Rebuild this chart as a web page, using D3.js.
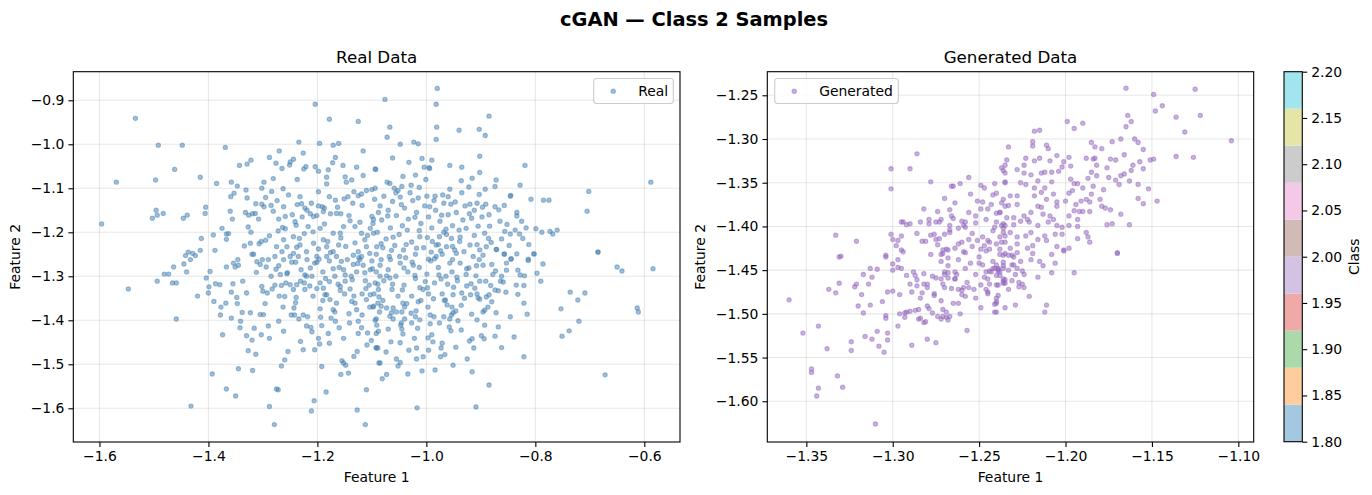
<html>
<head>
<meta charset="utf-8">
<style>
  body { margin: 0; background: #fff; }
  text { font-family: "DejaVu Sans", sans-serif; fill: #000; }
</style>
<script src="https://d3js.org/d3.v7.min.js"></script>
</head>
<body>
<script>
// real samples [feature 1, feature 2]
const realPoints = [
[-1.534,-0.941],[-1.204,-0.909],[-1.178,-0.943],[-1.125,-0.948],[-1.492,-1.002],[-1.448,-1.002],[-1.369,-1.007],[-1.234,-0.995],[-1.196,-0.998],[-1.171,-1.002],[-1.161,-0.998],[-1.116,-1.015],[-1.462,-1.057],[-1.569,-1.086],[-1.497,-1.081],[-1.415,-1.075],[-1.385,-1.089],[-1.596,-1.181],[-1.503,-1.168],[-1.494,-1.161],[-1.496,-1.150],[-1.483,-1.157],[-1.446,-1.168],[-1.439,-1.161],[-1.406,-1.157],[-1.405,-1.143],[-1.413,-1.214],[-1.391,-1.206],[-1.388,-1.241],[-1.375,-1.191],[-1.367,-1.204],[-1.363,-1.203],[-1.367,-1.216],[-1.360,-1.152],[-1.356,-1.170],[-1.359,-1.119],[-1.353,-1.111],[-1.358,-1.086],[-1.347,-1.095],[-1.343,-1.048],[-1.329,-1.045],[-1.322,-1.036],[-1.331,-1.104],[-1.329,-1.122],[-1.332,-1.155],[-1.326,-1.161],[-1.319,-1.158],[-1.314,-1.157],[-1.327,-1.188],[-1.322,-1.200],[-1.323,-1.225],[-1.307,-1.226],[-1.303,-1.221],[-1.295,-1.218],[-1.320,-1.250],[-1.317,-1.250],[-1.308,-1.170],[-1.302,-1.100],[-1.298,-1.086],[-1.302,-1.136],[-1.298,-1.142],[-1.295,-1.121],[-1.288,-1.030],[-1.285,-1.139],[-1.284,-1.107],[-1.281,-1.078],[-1.281,-1.152],[-1.276,-1.043],[-1.270,-1.015],[-1.265,-1.055],[-1.271,-1.170],[-1.264,-1.189],[-1.272,-1.197],[-1.259,-1.164],[-1.253,-1.115],[-1.251,-1.047],[-1.250,-1.040],[-1.244,-1.034],[-1.246,-1.160],[-1.239,-1.184],[-1.237,-1.080],[-1.232,-1.119],[-1.237,-1.137],[-1.229,-1.135],[-1.226,-1.020],[-1.221,-1.051],[-1.225,-1.056],[-1.223,-1.145],[-1.219,-1.150],[-1.228,-1.165],[-1.224,-1.203],[-1.211,-1.134],[-1.204,-1.051],[-1.198,-1.061],[-1.198,-1.108],[-1.198,-1.140],[-1.191,-1.142],[-1.187,-1.145],[-1.178,-1.119],[-1.183,-1.090],[-1.180,-1.058],[-1.172,-1.042],[-1.167,-1.030],[-1.167,-1.127],[-1.153,-1.048],[-1.149,-1.074],[-1.147,-1.086],[-1.137,-1.081],[-1.128,-1.052],[-1.093,-1.057],[-1.151,-1.124],[-1.144,-1.119],[-1.135,-1.134],[-1.133,-1.108],[-1.125,-1.117],[-1.119,-1.113],[-1.110,-1.105],[-1.100,-1.103],[-1.094,-1.100],[-1.201,-1.162],[-1.189,-1.153],[-1.176,-1.158],[-1.165,-1.157],[-1.157,-1.158],
[-1.140,-1.174],[-1.131,-1.187],[-1.122,-1.177],[-1.119,-1.202],[-1.113,-1.217],[-1.103,-1.191],[-1.097,-1.202],[-1.091,-1.233],[-1.110,-1.233],[-1.125,-1.244],[-1.134,-1.252],[-1.119,-1.255],[-1.100,-1.164],[-1.088,-1.155],
[-1.275,-1.233],[-1.265,-1.244],[-1.256,-1.233],[-1.244,-1.248],[-1.232,-1.229],[-1.220,-1.244],[-1.207,-1.225],[-1.201,-1.255],[-1.250,-1.255],[-1.278,-1.255],[-1.235,-1.255],[-1.189,-1.217],[-1.183,-1.233],[-1.171,-1.244],[-1.161,-1.229],[-1.158,-1.202],[-1.171,-1.202],[-1.152,-1.187],[-1.195,-1.191],[-1.207,-1.164],[-1.217,-1.187],[-1.244,-1.210],[-1.262,-1.217],[-1.183,-1.255],[-1.165,-1.255],
[-0.980,-0.873],[-1.076,-0.898],[-0.982,-0.909],[-0.885,-0.936],[-1.067,-0.961],[-1.072,-0.984],[-0.981,-0.961],[-0.982,-0.989],[-0.940,-0.968],[-0.903,-0.966],[-0.892,-0.980],[-1.048,-1.000],[-1.023,-0.995],[-1.015,-0.999],[-1.008,-1.032],[-0.990,-1.036],[-1.004,-1.052],[-0.995,-1.053],[-0.994,-1.055],[-0.957,-1.048],[-0.902,-1.027],[-0.902,-1.064],[-0.916,-1.077],[-0.936,-1.083],[-0.819,-1.048],[-1.094,-1.056],[-1.043,-1.073],[-1.020,-1.070],[-1.001,-1.080],[-1.072,-1.086],[-1.067,-1.089],[-0.588,-1.086],[-0.702,-1.107],[-0.705,-1.152],[-0.685,-1.245],[-1.045,-1.096],[-1.028,-1.093],[-1.013,-1.098],[-1.059,-1.100],[-1.052,-1.105],
[-0.957,-1.102],[-0.960,-1.119],[-0.984,-1.118],[-0.968,-1.134],[-0.955,-1.136],[-0.922,-1.097],[-0.903,-1.114],[-0.892,-1.102],[-0.874,-1.096],[-0.845,-1.116],[-0.828,-1.093],[-0.808,-1.125],[-0.785,-1.127],[-0.775,-1.127],
[-0.929,-1.140],[-0.920,-1.136],[-0.907,-1.134],[-0.891,-1.136],[-0.874,-1.142],[-0.867,-1.149],[-0.857,-1.139],[-0.834,-1.155],[-0.834,-1.163],[-0.825,-1.175],[-0.817,-1.190],[-0.799,-1.192],[-0.788,-1.200],[-0.773,-1.198],[-0.768,-1.204],[-0.760,-1.195],[-0.856,-1.198],[-0.846,-1.204],[-0.837,-1.195],[-0.829,-1.204],[-0.823,-1.214],[-0.803,-1.249],[-0.857,-1.250],[-0.844,-1.260],[-0.813,-1.261],
[-0.933,-1.172],[-0.927,-1.191],[-0.917,-1.168],[-0.905,-1.186],[-0.893,-1.202],[-0.884,-1.186],[-0.872,-1.239],[-0.890,-1.233],[-0.902,-1.240],[-0.920,-1.229],[-0.939,-1.221],[-0.954,-1.214],[-0.976,-1.210],[-0.982,-1.229],[-0.963,-1.233],[-0.945,-1.248],[-0.914,-1.255],[-0.896,-1.252],[-0.881,-1.223],
[-1.095,-1.125],[-1.085,-1.140],[-1.078,-1.118],[-1.070,-1.150],[-1.062,-1.130],[-1.055,-1.162],[-1.048,-1.120],[-1.040,-1.145],[-1.033,-1.170],[-1.025,-1.128],[-1.018,-1.155],[-1.010,-1.180],[-1.003,-1.140],[-0.996,-1.165],[-0.990,-1.190],[-0.983,-1.150],[-0.975,-1.175],[-0.968,-1.200],[-0.960,-1.160],[-0.952,-1.185],
[-1.098,-1.180],[-1.090,-1.200],[-1.082,-1.172],[-1.074,-1.215],[-1.066,-1.190],[-1.058,-1.230],[-1.050,-1.205],[-1.042,-1.240],[-1.035,-1.195],[-1.027,-1.222],[-1.020,-1.250],[-1.012,-1.210],[-1.005,-1.235],[-0.998,-1.212],[-0.991,-1.245],[-0.985,-1.260],[-0.978,-1.228],[-0.971,-1.250],[-0.963,-1.205],[-0.948,-1.240],
[-1.092,-1.250],[-1.080,-1.235],[-1.068,-1.255],[-1.056,-1.110],[-1.044,-1.185],[-1.030,-1.110],[-1.015,-1.122],[-0.999,-1.118],[-0.986,-1.128],[-0.970,-1.115],[-0.945,-1.155],[-0.940,-1.195],[-0.935,-1.110],[-0.912,-1.150],[-0.898,-1.165],[-0.885,-1.160],[-0.865,-1.175],[-0.852,-1.182],[-0.862,-1.215],[-0.848,-1.230],
[-1.547,-1.329],[-1.494,-1.311],[-1.481,-1.295],[-1.473,-1.295],[-1.464,-1.279],[-1.466,-1.315],[-1.459,-1.315],[-1.459,-1.397],[-1.440,-1.290],[-1.445,-1.272],[-1.442,-1.253],[-1.437,-1.245],[-1.429,-1.248],[-1.424,-1.253],[-1.433,-1.262],[-1.415,-1.241],
[-1.420,-1.345],[-1.432,-1.595],[-1.404,-1.304],[-1.399,-1.324],[-1.400,-1.338],[-1.397,-1.289],[-1.390,-1.357],[-1.387,-1.317],[-1.379,-1.319],[-1.377,-1.370],[-1.378,-1.388],[-1.374,-1.433],[-1.368,-1.361],[-1.358,-1.395],[-1.358,-1.336],[-1.367,-1.279],[-1.354,-1.270],[-1.351,-1.279],[-1.345,-1.275],[-1.355,-1.317],[-1.348,-1.348],[-1.347,-1.362],[-1.341,-1.402],[-1.342,-1.417],[-1.337,-1.311],[-1.330,-1.338],[-1.330,-1.435],[-1.327,-1.469],[-1.323,-1.383],[-1.320,-1.445],[-1.313,-1.477],[-1.345,-1.510],[-1.393,-1.522],[-1.367,-1.556],[-1.350,-1.572],[-1.319,-1.514],[-1.305,-1.387],[-1.299,-1.387],[-1.303,-1.433],[-1.290,-1.413],[-1.288,-1.596],[-1.279,-1.637],[-1.272,-1.558],[-1.275,-1.556],[-1.266,-1.504],[-1.260,-1.490],[-1.262,-1.425],[-1.263,-1.370],[-1.260,-1.346],[-1.258,-1.315],[-1.256,-1.294],[-1.248,-1.388],[-1.242,-1.388],[-1.234,-1.397],[-1.226,-1.388],[-1.220,-1.413],[-1.212,-1.416],[-1.210,-1.426],[-1.226,-1.467],[-1.206,-1.583],[-1.211,-1.606],[-1.184,-1.563],[-1.198,-1.441],[-1.196,-1.454],[-1.195,-1.374],[-1.194,-1.393],[-1.167,-1.402],[-1.160,-1.417],[-1.155,-1.492],[-1.152,-1.497],[-1.148,-1.502],[-1.157,-1.523],[-1.143,-1.520],[-1.127,-1.604],[-1.112,-1.637],[-1.110,-1.558],[-1.109,-1.456],[-1.108,-1.429],[-1.092,-1.462],[-1.092,-1.430],[-1.088,-1.425],[-1.094,-1.400],[-1.085,-1.497],
[-1.311,-1.267],[-1.305,-1.273],[-1.294,-1.279],[-1.302,-1.323],[-1.300,-1.334],[-1.283,-1.329],[-1.271,-1.276],[-1.268,-1.296],[-1.255,-1.292],[-1.250,-1.319],[-1.244,-1.330],[-1.238,-1.319],[-1.231,-1.311],[-1.223,-1.330],[-1.220,-1.300],[-1.213,-1.281],[-1.201,-1.268],[-1.195,-1.315],[-1.189,-1.327],[-1.183,-1.342],[-1.177,-1.353],[-1.171,-1.376],[-1.165,-1.361],[-1.158,-1.323],[-1.149,-1.311],[-1.140,-1.329],[-1.131,-1.361],[-1.128,-1.376],[-1.125,-1.402],[-1.119,-1.417],[-1.110,-1.353],[-1.103,-1.342],[-1.097,-1.368],[-1.094,-1.315],[-1.088,-1.330],[-1.152,-1.285],[-1.134,-1.273],[-1.122,-1.262],[-1.103,-1.285],[-1.085,-1.300],
[-0.685,-1.245],[-0.650,-1.279],[-0.641,-1.288],[-0.584,-1.283],[-0.736,-1.336],[-0.709,-1.338],[-0.722,-1.354],[-0.753,-1.374],[-0.720,-1.402],[-0.738,-1.424],[-0.751,-1.436],[-0.613,-1.372],[-0.611,-1.381],[-0.672,-1.524],[-0.821,-1.483],[-0.815,-1.386],[-0.821,-1.361],[-0.839,-1.438],[-0.868,-1.415],[-0.874,-1.436],[-0.885,-1.547],[-0.909,-1.597],[-1.017,-1.599],[-1.008,-1.515],[-0.984,-1.513],[-1.034,-1.522],[-1.081,-1.533],[-1.087,-1.497],[-1.055,-1.488],[-1.052,-1.504],[-1.048,-1.496],[-1.018,-1.488],[-1.006,-1.483],[-0.974,-1.483],[-0.966,-1.478],[-0.925,-1.488],[-0.916,-1.517],[-0.913,-1.463],[-0.916,-1.442],[-0.899,-1.435],[-0.894,-1.442],[-0.907,-1.399],[-0.936,-1.422],[-0.955,-1.424],[-0.958,-1.415],[-0.976,-1.406],[-0.990,-1.433],[-0.988,-1.449],[-0.997,-1.440],[-0.973,-1.463],[-1.018,-1.463],[-1.065,-1.449],[-1.070,-1.420],[-1.045,-1.420],[-1.046,-1.406],[-1.047,-1.411],[-1.089,-1.463],[-1.092,-1.463],[-1.027,-1.406],[-1.020,-1.392],[-1.012,-1.399],[-1.040,-1.397],[-1.061,-1.397],[-1.092,-1.397],
[-0.957,-1.397],[-0.954,-1.388],[-0.951,-1.383],[-0.946,-1.379],[-0.962,-1.365],[-0.953,-1.370],[-0.965,-1.354],[-0.993,-1.388],[-0.986,-1.392],[-0.997,-1.370],[-1.015,-1.358],[-1.019,-1.379],[-1.028,-1.384],[-1.040,-1.370],[-1.043,-1.361],[-1.045,-1.381],[-1.055,-1.381],[-1.061,-1.372],[-1.064,-1.383],[-1.073,-1.372],[-1.086,-1.381],[-1.083,-1.368],[-1.089,-1.361],[-1.098,-1.370],[-1.104,-1.370],
[-0.935,-1.338],[-0.919,-1.342],[-0.907,-1.340],[-0.902,-1.352],[-0.890,-1.347],[-0.885,-1.342],[-0.880,-1.358],[-0.874,-1.331],[-0.868,-1.333],[-0.854,-1.336],[-0.872,-1.383],[-0.896,-1.381],[-0.893,-1.377],[-0.887,-1.370],
[-0.918,-1.317],[-0.902,-1.311],[-0.891,-1.311],[-0.909,-1.299],[-0.927,-1.296],[-0.944,-1.302],[-0.922,-1.281],[-0.908,-1.276],[-0.896,-1.275],[-0.880,-1.273],[-0.873,-1.288],[-0.862,-1.300],[-0.864,-1.311],[-0.859,-1.313],[-0.853,-1.286],[-0.845,-1.261],[-0.834,-1.249],[-0.857,-1.249],[-0.871,-1.239],[-0.835,-1.320],[-0.821,-1.321],[-0.820,-1.299],[-0.828,-1.297],[-0.832,-1.286],[-0.813,-1.264],[-0.802,-1.249],[-0.797,-1.293],[-0.790,-1.311],[-0.786,-1.272],[-0.853,-1.270],
[-1.100,-1.265],[-1.092,-1.290],[-1.085,-1.275],[-1.078,-1.310],[-1.070,-1.285],[-1.063,-1.330],[-1.056,-1.300],[-1.048,-1.270],[-1.041,-1.320],[-1.034,-1.290],[-1.027,-1.345],[-1.020,-1.305],[-1.013,-1.280],[-1.006,-1.330],[-0.999,-1.295],[-0.992,-1.265],[-0.985,-1.315],[-0.978,-1.280],[-0.971,-1.340],[-0.964,-1.300],[-0.957,-1.270],[-0.950,-1.325],[-1.096,-1.340],[-1.080,-1.355],[-1.066,-1.262],[-1.052,-1.345],[-1.038,-1.258],[-1.024,-1.275],[-1.010,-1.355],[-0.996,-1.340],[-0.982,-1.255],[-0.967,-1.355],[-0.953,-1.290],[-0.943,-1.310],[-0.938,-1.270],[-0.930,-1.350],
[-1.205,-1.270],[-1.190,-1.290],[-1.178,-1.265],[-1.168,-1.300],[-1.160,-1.280],[-1.145,-1.262],[-1.138,-1.300],[-1.128,-1.290],[-1.116,-1.275],[-1.112,-1.310],[-1.185,-1.305],[-1.210,-1.300],[-1.230,-1.285],[-1.240,-1.268],[-1.262,-1.262],[-1.285,-1.300],[-1.290,-1.262],[-1.278,-1.320],[-1.208,-1.345],[-1.190,-1.355],[-1.150,-1.340],[-1.133,-1.345],[-1.118,-1.340],[-1.105,-1.320],[-1.175,-1.395],[-1.142,-1.385],[-1.125,-1.430],[-1.180,-1.430],[-1.240,-1.360],[-1.270,-1.345],
[-1.262,-1.142],[-1.241,-1.176],[-1.213,-1.158],[-1.187,-1.181],[-1.163,-1.143],[-1.142,-1.162],[-1.118,-1.139],[-1.097,-1.171],[-1.071,-1.163],[-1.046,-1.137],[-1.021,-1.166],[-0.994,-1.142],[-0.972,-1.161],[-0.947,-1.131],[-0.921,-1.158],[-0.897,-1.143],
[-1.288,-1.208],[-1.259,-1.192],[-1.233,-1.214],[-1.208,-1.199],[-1.181,-1.221],[-1.157,-1.213],[-1.131,-1.224],[-1.108,-1.207],[-1.083,-1.226],[-1.061,-1.211],[-1.037,-1.228],[-1.013,-1.196],[-0.989,-1.221],[-0.964,-1.193],[-0.938,-1.211],[-0.912,-1.207],[-0.886,-1.214],
[-1.301,-1.262],[-1.276,-1.284],[-1.247,-1.268],[-1.223,-1.297],[-1.197,-1.261],[-1.171,-1.283],[-1.149,-1.297],[-1.124,-1.258],[-1.099,-1.283],[-1.073,-1.299],[-1.049,-1.255],[-1.026,-1.268],[-1.002,-1.312],[-0.977,-1.297],[-0.952,-1.262],[-0.926,-1.283],[-0.903,-1.262],[-0.878,-1.296],
[-1.292,-1.338],[-1.266,-1.321],[-1.239,-1.348],[-1.214,-1.322],[-1.186,-1.342],[-1.162,-1.318],[-1.137,-1.357],[-1.111,-1.328],[-1.087,-1.347],[-1.062,-1.318],[-1.036,-1.362],[-1.012,-1.326],[-0.987,-1.351],[-0.961,-1.318],[-0.936,-1.366],[-0.911,-1.327],[-0.882,-1.321],
[-1.271,-1.402],[-1.243,-1.372],[-1.218,-1.392],[-1.192,-1.412],[-1.168,-1.381],[-1.141,-1.406],[-1.118,-1.388],[-1.091,-1.411],[-1.067,-1.391],[-1.043,-1.431],[-1.016,-1.418],[-0.993,-1.408],[-0.968,-1.392],[-0.942,-1.401],[-0.917,-1.386],[-0.893,-1.411],
[-1.231,-1.448],[-1.205,-1.467],[-1.178,-1.452],[-1.152,-1.441],[-1.127,-1.471],[-1.101,-1.446],[-1.074,-1.472],[-1.048,-1.451],[-1.022,-1.441],[-0.996,-1.468],[-0.971,-1.452],[-0.946,-1.461],[-0.921,-1.447],
[-1.334,-1.231],[-1.346,-1.262],[-1.312,-1.291],[-1.338,-1.382],[-1.296,-1.362],[-1.316,-1.418],[-1.288,-1.441],[-1.254,-1.471],[-1.192,-1.505],[-1.133,-1.482],[-1.073,-1.523],[-1.032,-1.468],[-0.951,-1.502],[-0.862,-1.462],[-0.846,-1.392],[-0.832,-1.341],[-0.812,-1.228],[-0.846,-1.118],[-0.872,-1.081],[-0.935,-1.052],[-1.032,-1.041],[-1.062,-1.031],[-1.116,-1.071],[-1.183,-1.075],[-1.263,-1.101],[-1.313,-1.135],[-1.274,-1.128],
[-1.148,-1.232],[-1.126,-1.271],[-1.104,-1.248],[-1.083,-1.262],[-1.064,-1.241],[-1.041,-1.281],[-1.018,-1.236],[-0.996,-1.261],[-0.974,-1.242],[-1.136,-1.308],[-1.113,-1.292],[-1.089,-1.318],[-1.067,-1.304],[-1.044,-1.331],[-1.021,-1.298],[-0.998,-1.326],[-0.973,-1.306],[-1.156,-1.266],[-1.176,-1.246],[-1.198,-1.238],[-1.219,-1.262],[-1.238,-1.234],[-1.158,-1.332],[-1.178,-1.312],[-1.201,-1.328],[-1.224,-1.315],[-0.952,-1.232],[-0.931,-1.244],[-0.907,-1.228],[-0.951,-1.342],[-0.926,-1.322],[-0.905,-1.349]
];

// generated samples
const generatedPoints = [
[-1.286,-1.317],[-1.301,-1.334],[-1.290,-1.334],[-1.301,-1.357],[-1.278,-1.349],[-1.256,-1.344],[-1.249,-1.353],[-1.261,-1.351],[-1.266,-1.354],[-1.265,-1.354],[-1.270,-1.368],[-1.264,-1.373],[-1.255,-1.363],[-1.251,-1.371],[-1.247,-1.356],[-1.241,-1.351],[-1.242,-1.364],[-1.243,-1.375],[-1.249,-1.380],[-1.245,-1.380],[-1.282,-1.380],[-1.274,-1.383],[-1.267,-1.381],[-1.266,-1.388],[-1.265,-1.391],[-1.279,-1.392],[-1.284,-1.395],[-1.279,-1.397],[-1.275,-1.395],[-1.273,-1.395],[-1.295,-1.395],[-1.294,-1.395],[-1.292,-1.398],[-1.290,-1.397],[-1.267,-1.399],[-1.267,-1.404],[-1.260,-1.394],[-1.259,-1.399],[-1.258,-1.401],[-1.333,-1.410],[-1.321,-1.417],[-1.301,-1.409],[-1.300,-1.415],[-1.295,-1.411],[-1.297,-1.416],[-1.295,-1.427],[-1.330,-1.434],[-1.304,-1.433],[-1.283,-1.417],[-1.281,-1.417],[-1.278,-1.410],[-1.276,-1.409],[-1.273,-1.414],[-1.275,-1.415],[-1.270,-1.409],[-1.267,-1.407],
[-1.271,-1.427],[-1.269,-1.426],[-1.268,-1.427],[-1.271,-1.431],[-1.272,-1.432],[-1.264,-1.425],[-1.260,-1.418],[-1.259,-1.429],[-1.254,-1.408],[-1.251,-1.416],[-1.245,-1.416],[-1.254,-1.423],[-1.249,-1.426],[-1.247,-1.422],[-1.244,-1.426],[-1.240,-1.420],[-1.237,-1.418],[-1.236,-1.407],[-1.235,-1.399],[-1.235,-1.411],[-1.241,-1.401],[-1.238,-1.384],[-1.236,-1.397],[-1.236,-1.369],[-1.235,-1.377],[-1.235,-1.350],[-1.236,-1.336],[-1.235,-1.330],[-1.235,-1.339],
[-1.165,-1.242],[-1.149,-1.249],[-1.125,-1.243],[-1.148,-1.268],[-1.144,-1.262],[-1.164,-1.273],[-1.162,-1.280],[-1.165,-1.286],[-1.136,-1.275],[-1.122,-1.273],[-1.131,-1.292],[-1.104,-1.302],[-1.136,-1.320],[-1.126,-1.321],[-1.199,-1.280],[-1.195,-1.288],[-1.190,-1.282],[-1.218,-1.291],[-1.215,-1.290],[-1.173,-1.303],[-1.168,-1.300],[-1.160,-1.300],[-1.158,-1.304],[-1.155,-1.312],[-1.185,-1.304],[-1.183,-1.309],[-1.179,-1.311],[-1.233,-1.309],[-1.219,-1.303],[-1.219,-1.308],[-1.211,-1.307],[-1.210,-1.311],[-1.174,-1.323],[-1.171,-1.324],[-1.157,-1.326],[-1.151,-1.324],[-1.149,-1.323],[-1.161,-1.330],[-1.162,-1.336],[-1.155,-1.334],[-1.166,-1.340],[-1.168,-1.342],[-1.163,-1.348],[-1.158,-1.352],[-1.169,-1.352],[-1.171,-1.347],[-1.175,-1.344],[-1.152,-1.357],[-1.155,-1.374],[-1.147,-1.371],[-1.173,-1.397],[-1.163,-1.398],[-1.170,-1.430],
[-1.184,-1.323],[-1.183,-1.322],[-1.182,-1.330],[-1.185,-1.338],[-1.176,-1.333],[-1.187,-1.345],[-1.184,-1.354],[-1.195,-1.351],[-1.193,-1.351],[-1.198,-1.321],[-1.197,-1.331],[-1.201,-1.326],[-1.202,-1.332],[-1.205,-1.319],[-1.209,-1.325],[-1.215,-1.322],[-1.218,-1.325],[-1.223,-1.322],[-1.224,-1.330],[-1.237,-1.333],[-1.234,-1.324],[-1.228,-1.335],[-1.224,-1.339],[-1.220,-1.341],[-1.214,-1.339],[-1.208,-1.338],[-1.204,-1.337],
[-1.235,-1.349],[-1.223,-1.352],[-1.218,-1.356],[-1.216,-1.348],[-1.212,-1.356],[-1.208,-1.349],[-1.197,-1.346],[-1.196,-1.359],[-1.200,-1.371],[-1.194,-1.375],[-1.191,-1.371],[-1.188,-1.369],[-1.185,-1.363],[-1.180,-1.369],[-1.179,-1.377],[-1.177,-1.379],[-1.174,-1.381],[-1.186,-1.383],[-1.190,-1.383],[-1.192,-1.383],[-1.198,-1.388],[-1.193,-1.392],[-1.198,-1.399],[-1.193,-1.400],[-1.188,-1.407],[-1.187,-1.412],[-1.193,-1.414],[-1.201,-1.427],[-1.205,-1.423],[-1.206,-1.409],[-1.202,-1.409],[-1.205,-1.399],[-1.207,-1.392],[-1.205,-1.377],[-1.207,-1.363],[-1.211,-1.369],[-1.214,-1.361],[-1.216,-1.377],[-1.220,-1.384],[-1.222,-1.392],[-1.224,-1.388],[-1.228,-1.375],[-1.232,-1.365],[-1.237,-1.373],[-1.238,-1.384],[-1.240,-1.395],[-1.237,-1.399],[-1.232,-1.407],[-1.235,-1.418],[-1.238,-1.426],[-1.233,-1.433],[-1.228,-1.420],[-1.223,-1.411],[-1.220,-1.407],[-1.216,-1.399],[-1.212,-1.411],[-1.209,-1.388],[-1.226,-1.394],[-1.230,-1.390],
[-1.360,-1.484],[-1.352,-1.522],[-1.343,-1.514],[-1.338,-1.540],[-1.347,-1.563],[-1.347,-1.567],[-1.343,-1.585],[-1.344,-1.594],[-1.332,-1.571],[-1.329,-1.584],[-1.331,-1.435],[-1.337,-1.472],[-1.333,-1.476],[-1.331,-1.465],[-1.322,-1.469],[-1.321,-1.466],[-1.317,-1.455],[-1.314,-1.466],[-1.313,-1.448],[-1.309,-1.449],[-1.320,-1.491],[-1.317,-1.499],[-1.313,-1.490],[-1.324,-1.532],[-1.324,-1.542],[-1.316,-1.526],[-1.312,-1.529],[-1.309,-1.520],[-1.308,-1.537],[-1.305,-1.544],[-1.303,-1.522],[-1.303,-1.530],[-1.304,-1.502],[-1.304,-1.505],[-1.310,-1.626],[-1.304,-1.435],[-1.303,-1.475],[-1.300,-1.474],[-1.300,-1.450],[-1.300,-1.443],[-1.297,-1.447],[-1.295,-1.448],[-1.297,-1.438],[-1.294,-1.429],[-1.297,-1.514],[-1.296,-1.500],[-1.293,-1.499],[-1.292,-1.498],[-1.290,-1.497],[-1.287,-1.496],[-1.285,-1.495],[-1.293,-1.504],[-1.289,-1.536],[-1.290,-1.466],[-1.289,-1.475],[-1.287,-1.456],[-1.286,-1.461],[-1.286,-1.468],[-1.292,-1.456],[-1.282,-1.454],[-1.280,-1.466],[-1.280,-1.470],[-1.283,-1.476],[-1.285,-1.506],[-1.284,-1.505],[-1.282,-1.510],[-1.281,-1.509],[-1.280,-1.529],[-1.275,-1.533],[-1.280,-1.491],[-1.279,-1.494],[-1.277,-1.499],[-1.277,-1.457],[-1.275,-1.459],[-1.276,-1.477],[-1.276,-1.479],[-1.272,-1.485],
[-1.274,-1.503],[-1.272,-1.506],[-1.271,-1.503],[-1.269,-1.504],[-1.268,-1.507],[-1.267,-1.503],[-1.271,-1.495],[-1.269,-1.498],[-1.272,-1.460],[-1.271,-1.466],[-1.270,-1.470],[-1.268,-1.459],[-1.270,-1.455],[-1.268,-1.453],[-1.265,-1.488],[-1.262,-1.488],[-1.261,-1.500],[-1.266,-1.471],[-1.264,-1.460],[-1.264,-1.452],[-1.263,-1.455],[-1.259,-1.470],[-1.258,-1.480],[-1.260,-1.473],[-1.260,-1.478],[-1.257,-1.519],[-1.257,-1.464],[-1.256,-1.470],[-1.253,-1.472],[-1.250,-1.442],[-1.249,-1.467],[-1.249,-1.493],[-1.247,-1.458],[-1.246,-1.472],[-1.245,-1.475],[-1.245,-1.477],[-1.244,-1.466],[-1.246,-1.452],[-1.244,-1.451],[-1.243,-1.452],[-1.242,-1.448],[-1.239,-1.448],[-1.238,-1.452],[-1.236,-1.448],[-1.239,-1.467],[-1.236,-1.465],[-1.240,-1.486],[-1.240,-1.488],[-1.240,-1.498],[-1.239,-1.479],[-1.235,-1.465],[-1.235,-1.461],
[-1.170,-1.431],[-1.195,-1.453],[-1.208,-1.453],[-1.213,-1.445],[-1.201,-1.428],[-1.220,-1.438],[-1.219,-1.431],[-1.225,-1.451],[-1.224,-1.455],[-1.229,-1.455],[-1.227,-1.464],[-1.225,-1.466],[-1.227,-1.469],[-1.224,-1.470],[-1.221,-1.480],[-1.211,-1.490],[-1.212,-1.498],[-1.229,-1.490],[-1.235,-1.493],[-1.233,-1.472],[-1.240,-1.467],[-1.240,-1.482],[-1.241,-1.498],[-1.241,-1.489],[-1.236,-1.460],[-1.236,-1.463],[-1.233,-1.450],[-1.231,-1.444],[-1.230,-1.444],[-1.236,-1.441],[-1.236,-1.433],[-1.235,-1.431],[-1.231,-1.433],[-1.230,-1.435],[-1.240,-1.444],[-1.241,-1.448],[-1.239,-1.451],[-1.239,-1.449],[-1.240,-1.456],
[-1.278,-1.432],[-1.272,-1.440],[-1.268,-1.445],[-1.262,-1.438],[-1.258,-1.430],[-1.255,-1.442],[-1.250,-1.435],[-1.246,-1.428],[-1.242,-1.440],[-1.238,-1.432],[-1.262,-1.420],[-1.256,-1.415],[-1.248,-1.412],[-1.242,-1.405],[-1.238,-1.412],[-1.270,-1.452],[-1.264,-1.460],[-1.252,-1.455],[-1.245,-1.460],[-1.236,-1.445],[-1.232,-1.425],[-1.228,-1.430],[-1.226,-1.440],[-1.230,-1.398],[-1.234,-1.390],[-1.240,-1.385],[-1.246,-1.392],[-1.252,-1.388],[-1.258,-1.395],[-1.233,-1.376],[-1.228,-1.365],[-1.240,-1.362],[-1.226,-1.350],[-1.218,-1.365],[-1.214,-1.378],[-1.210,-1.395],[-1.216,-1.415],[-1.222,-1.425],[-1.208,-1.432],[-1.215,-1.440],
[-1.262,-1.402],[-1.252,-1.396],[-1.244,-1.418],[-1.236,-1.402],[-1.228,-1.412],[-1.221,-1.395],[-1.213,-1.386],[-1.205,-1.372],[-1.198,-1.362],[-1.190,-1.356],[-1.182,-1.342],[-1.274,-1.421],[-1.268,-1.436],[-1.258,-1.448],[-1.248,-1.444],[-1.238,-1.456],[-1.228,-1.448],[-1.219,-1.422],[-1.211,-1.416],[-1.202,-1.401],[-1.195,-1.382],[-1.186,-1.372],[-1.178,-1.358],[-1.288,-1.452],[-1.282,-1.466],[-1.296,-1.478],[-1.306,-1.486],[-1.284,-1.482],[-1.262,-1.472],[-1.252,-1.482],[-1.231,-1.462],[-1.216,-1.458],[-1.206,-1.442],[-1.198,-1.425],[-1.186,-1.418],[-1.176,-1.398],[-1.168,-1.386],[-1.158,-1.368],[-1.166,-1.318],[-1.188,-1.322],[-1.212,-1.338],[-1.248,-1.372],[-1.256,-1.384],[-1.272,-1.392],[-1.286,-1.408],[-1.298,-1.422],[-1.312,-1.458],[-1.318,-1.478]
];

const realXTicks = [-1.6, -1.4, -1.2, -1.0, -0.8, -0.6];
const realYTicks = [-0.9, -1.0, -1.1, -1.2, -1.3, -1.4, -1.5, -1.6];
const genXTicks = [-1.35, -1.30, -1.25, -1.20, -1.15, -1.10];
const genYTicks = [-1.25, -1.30, -1.35, -1.40, -1.45, -1.50, -1.55, -1.60];
const classColors = ["#a5c8e1", "#ffcc9e", "#abd9ab", "#efa9a9", "#d4c2e5", "#d1bbb7", "#f4c9e7", "#cccccc", "#e4e5a7", "#a2e5ec"];
const classTicks = [1.80, 1.85, 1.90, 1.95, 2.00, 2.05, 2.10, 2.15, 2.20];

const W = 1372, H = 495;
const svg = d3.select("body").append("svg").attr("width", W).attr("height", H);

function panel(opts) {
  const x = d3.scaleLinear().domain(opts.xDomain).range([opts.left, opts.right]);
  const y = d3.scaleLinear().domain(opts.yDomain).range([opts.bottom, opts.top]);
  const g = svg.append("g");

  // grid
  g.selectAll(".gx").data(opts.xTicks).enter().append("line")
    .attr("x1", d => x(d)).attr("x2", d => x(d))
    .attr("y1", opts.top).attr("y2", opts.bottom)
    .attr("stroke", "#b0b0b0").attr("stroke-opacity", 0.3).attr("stroke-width", 1.1);
  g.selectAll(".gy").data(opts.yTicks).enter().append("line")
    .attr("y1", d => y(d)).attr("y2", d => y(d))
    .attr("x1", opts.left).attr("x2", opts.right)
    .attr("stroke", "#b0b0b0").attr("stroke-opacity", 0.3).attr("stroke-width", 1.1);

  g.selectAll("circle").data(opts.points).enter().append("circle")
    .attr("cx", d => x(d[0])).attr("cy", d => y(d[1]))
    .attr("r", 2.15)
    .attr("fill", opts.color).attr("fill-opacity", 0.5)
    .attr("stroke", opts.color).attr("stroke-opacity", 0.5).attr("stroke-width", 1.1);

  const xAxis = d3.axisBottom(x).tickValues(opts.xTicks).tickSize(4.9).tickPadding(4)
    .tickFormat(d => d3.format(opts.xFmt)(d).replace("-", "\u2212"));
  const yAxis = d3.axisLeft(y).tickValues(opts.yTicks).tickSize(4.9).tickPadding(4)
    .tickFormat(d => d3.format(opts.yFmt)(d).replace("-", "\u2212"));
  const gx = g.append("g").attr("transform", `translate(0,${opts.bottom})`).call(xAxis);
  const gy = g.append("g").attr("transform", `translate(${opts.left},0)`).call(yAxis);
  [gx, gy].forEach(a => {
    a.select(".domain").remove();
    a.selectAll("text").attr("font-size", "13.9px").attr("font-family", "DejaVu Sans").attr("fill", "#000");
    a.selectAll("line").attr("stroke", "#000").attr("stroke-width", 1.1);
  });

  g.append("rect").attr("x", opts.left).attr("y", opts.top)
    .attr("width", opts.right - opts.left).attr("height", opts.bottom - opts.top)
    .attr("fill", "none").attr("stroke", "#000").attr("stroke-width", 1.1);

  g.append("text").attr("x", (opts.left + opts.right) / 2).attr("y", 63)
    .attr("text-anchor", "middle").attr("font-size", "16.7px").text(opts.title);
  g.append("text").attr("x", (opts.left + opts.right) / 2).attr("y", 482)
    .attr("text-anchor", "middle").attr("font-size", "13.9px").text("Feature 1");
  g.append("text").attr("transform", `translate(${opts.ylabX},${(opts.top + opts.bottom) / 2}) rotate(-90)`)
    .attr("text-anchor", "middle").attr("font-size", "13.9px").text("Feature 2");

  // legend
  const lg = g.append("g");
  lg.append("rect").attr("x", opts.legend[0]).attr("y", 78.5)
    .attr("width", opts.legend[1]).attr("height", 25).attr("rx", 3)
    .attr("fill", "#fff").attr("fill-opacity", 0.8).attr("stroke", "#cccccc").attr("stroke-width", 1.1);
  lg.append("circle").attr("cx", opts.legend[0] + 19.5).attr("cy", 91.3).attr("r", 2.15)
    .attr("fill", opts.color).attr("fill-opacity", 0.5)
    .attr("stroke", opts.color).attr("stroke-opacity", 0.5).attr("stroke-width", 1.1);
  lg.append("text").attr("x", opts.legend[0] + 44.5).attr("y", 96.3)
    .attr("font-size", "13.9px").text(opts.label);
}

panel({
  points: realPoints, color: "#4682b4", title: "Real Data", label: "Real",
  left: 73.3, right: 680, top: 71.7, bottom: 442,
  xDomain: [-1.648, -0.5345], yDomain: [-1.6766, -0.835],
  xTicks: realXTicks, yTicks: realYTicks, xFmt: ".1f", yFmt: ".1f",
  ylabX: 20, legend: [593.7, 79.6]
});

panel({
  points: generatedPoints, color: "#9467bd", title: "Generated Data", label: "Generated",
  left: 767.3, right: 1253.7, top: 71.7, bottom: 442,
  xDomain: [-1.3726, -1.0911], yDomain: [-1.6466, -1.223],
  xTicks: genXTicks, yTicks: genYTicks, xFmt: ".2f", yFmt: ".2f",
  ylabX: 705, legend: [774.7, 123.6]
});

// colorbar
const cbLeft = 1284, cbRight = 1302.3, cbTop = 71.7, cbBottom = 441.7;
const cy = d3.scaleLinear().domain([1.8, 2.2]).range([cbBottom, cbTop]);
const step = 0.4 / classColors.length;
svg.append("g").selectAll("rect").data(classColors).enter().append("rect")
  .attr("x", cbLeft).attr("width", cbRight - cbLeft)
  .attr("y", (d, i) => cy(1.8 + (i + 1) * step))
  .attr("height", (d, i) => cy(1.8 + i * step) - cy(1.8 + (i + 1) * step))
  .attr("fill", d => d);
svg.append("rect").attr("x", cbLeft).attr("y", cbTop)
  .attr("width", cbRight - cbLeft).attr("height", cbBottom - cbTop)
  .attr("fill", "none").attr("stroke", "#000").attr("stroke-width", 1.1);
const cbAxis = d3.axisRight(cy).tickValues(classTicks).tickSize(4.9).tickPadding(4).tickFormat(d3.format(".2f"));
const gcb = svg.append("g").attr("transform", `translate(${cbRight},0)`).call(cbAxis);
gcb.select(".domain").remove();
gcb.selectAll("text").attr("font-size", "13.9px").attr("font-family", "DejaVu Sans").attr("fill", "#000");
gcb.selectAll("line").attr("stroke", "#000").attr("stroke-width", 1.1);
svg.append("text").attr("transform", `translate(1359,${(cbTop + cbBottom) / 2}) rotate(-90)`)
  .attr("text-anchor", "middle").attr("font-size", "13.9px").text("Class");

svg.append("text").attr("x", 694).attr("y", 25.5).attr("text-anchor", "middle")
  .attr("font-size", "19.4px").attr("font-weight", "bold").text("cGAN \u2014 Class 2 Samples");
</script>
</body>
</html>
